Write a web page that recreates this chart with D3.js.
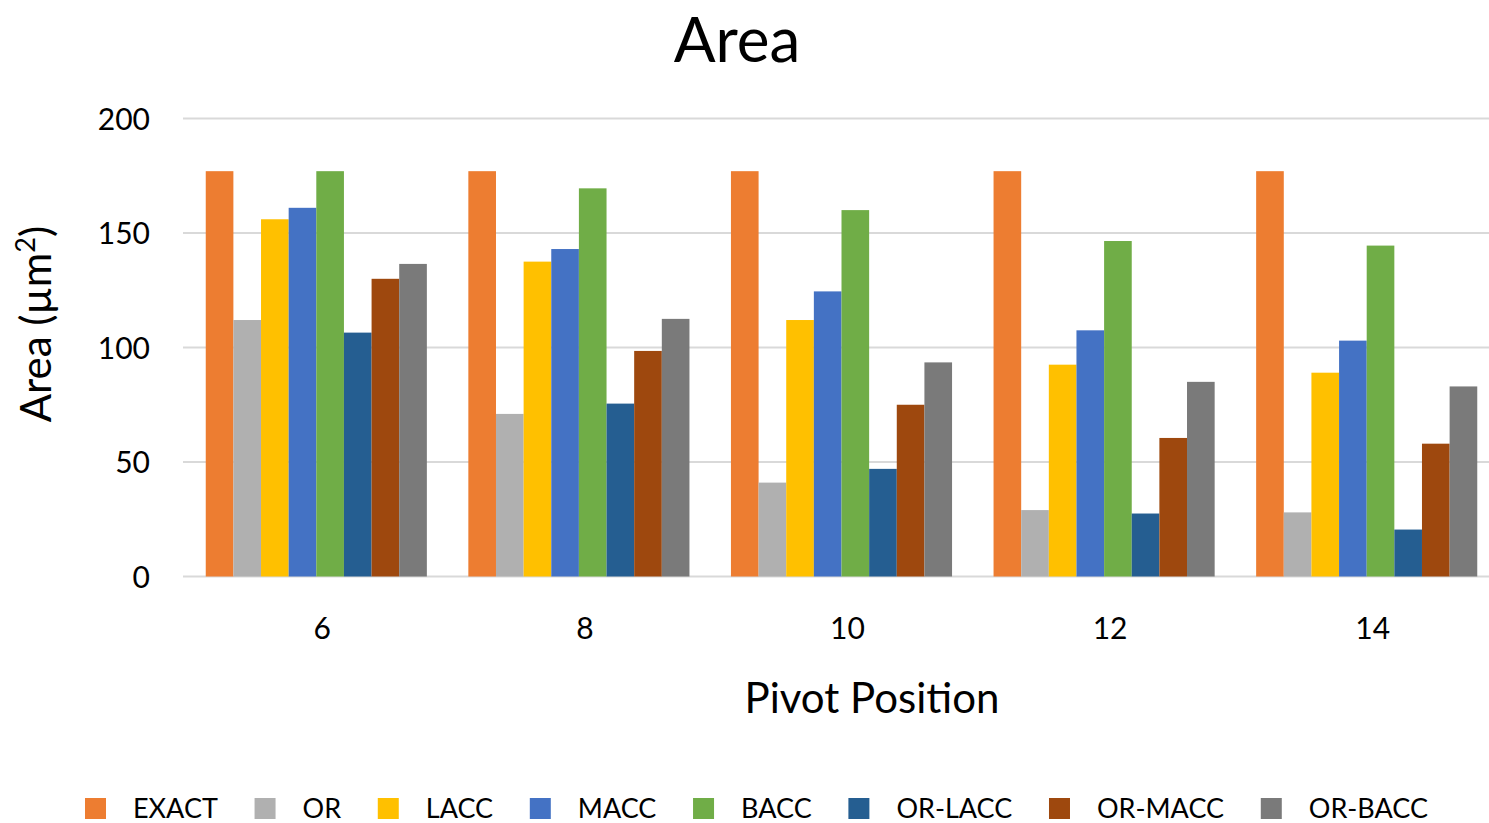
<!DOCTYPE html>
<html>
<head>
<meta charset="utf-8">
<script src="https://cdn.jsdelivr.net/npm/d3@7"></script>
<style>
  html, body { margin: 0; padding: 0; background: #fff; overflow: hidden; }
  svg { display: block; font-family: Lato, "Open Sans", sans-serif; }
</style>
</head>
<body>
<svg id="chart" width="1489" height="823"></svg>
<script>
// Pivot positions along the x axis
const categories = ["6", "8", "10", "12", "14"];

// Series names and colours
const seriesNames = ["EXACT", "OR", "LACC", "MACC", "BACC", "OR-LACC", "OR-MACC", "OR-BACC"];
const seriesColors = ["#ed7d31", "#b0b0b0", "#ffc000", "#4472c4", "#70ad47", "#255e91", "#9e480e", "#7a7a7a"];

// Area (µm²) per series, one value per pivot position
const EXACT    = [177, 177, 177, 177, 177];
const OR       = [112, 71, 41, 29, 28];
const LACC     = [156, 137.5, 112, 92.5, 89];
const MACC     = [161, 143, 124.5, 107.5, 103];
const BACC     = [177, 169.5, 160, 146.5, 144.5];
const OR_LACC  = [106.5, 75.5, 47, 27.5, 20.5];
const OR_MACC  = [130, 98.5, 75, 60.5, 58];
const OR_BACC  = [136.5, 112.5, 93.5, 85, 83];

const seriesValues = [EXACT, OR, LACC, MACC, BACC, OR_LACC, OR_MACC, OR_BACC];

// Y axis ticks
const yTicks = [0, 50, 100, 150, 200];

const svg = d3.select("#chart");

const x0 = d3.scaleBand()
  .domain(categories)
  .range([185, 1498])
  .paddingInner(0.158)
  .paddingOuter(0.079);

const x1 = d3.scaleBand()
  .domain(seriesNames)
  .range([0, x0.bandwidth()])
  .padding(0);

const y = d3.scaleLinear()
  .domain([0, 200])
  .range([576.5, 118.5]);

const color = d3.scaleOrdinal().domain(seriesNames).range(seriesColors);

// Title
svg.append("text")
  .attr("x", 737)
  .attr("y", 61.5)
  .attr("text-anchor", "middle")
  .attr("font-size", 62)
  .attr("fill", "#000")
  .text("Area");

// Horizontal gridlines
svg.append("g")
  .attr("class", "grid")
  .selectAll("line")
  .data(yTicks)
  .join("line")
  .attr("x1", 183)
  .attr("x2", 1498)
  .attr("y1", d => y(d))
  .attr("y2", d => y(d))
  .attr("stroke", "#d9d9d9")
  .attr("stroke-width", 2.2);

// Y axis tick labels
const yAxis = d3.axisLeft(y).tickValues(yTicks).tickSize(0).tickPadding(0);
const yAxisG = svg.append("g")
  .attr("transform", "translate(150,0)")
  .call(yAxis);
yAxisG.select(".domain").remove();
yAxisG.selectAll("text")
  .attr("font-family", "Lato, 'Open Sans', sans-serif")
  .attr("font-size", 30)
  .attr("fill", "#000")
  .attr("dy", "0.35em");

// Bars
const groups = svg.append("g")
  .selectAll("g")
  .data(categories)
  .join("g")
  .attr("transform", d => `translate(${x0(d)},0)`);

groups.selectAll("rect")
  .data((cat, i) => seriesNames.map((s, k) => ({ series: s, value: seriesValues[k][i] })))
  .join("rect")
  .attr("x", d => x1(d.series))
  .attr("width", x1.bandwidth())
  .attr("y", d => y(d.value))
  .attr("height", d => y(0) - y(d.value))
  .attr("fill", d => color(d.series));

// X axis tick labels
const xAxis = d3.axisBottom(x0).tickSize(0).tickPadding(0);
const xAxisG = svg.append("g")
  .attr("transform", "translate(6,628)")
  .call(xAxis);
xAxisG.select(".domain").remove();
xAxisG.selectAll("text")
  .attr("font-family", "Lato, 'Open Sans', sans-serif")
  .attr("font-size", 30)
  .attr("fill", "#000")
  .attr("dy", "0.35em");

// Axis titles
svg.append("text")
  .attr("x", 872)
  .attr("y", 713)
  .attr("text-anchor", "middle")
  .attr("font-size", 42)
  .attr("fill", "#000")
  .text("Pivot Position");

const yTitle = svg.append("text")
  .attr("transform", "translate(51,324) rotate(-90)")
  .attr("text-anchor", "middle")
  .attr("font-size", 42)
  .attr("fill", "#000");
yTitle.append("tspan").text("Area (µm");
yTitle.append("tspan").attr("font-size", 27).attr("dy", -16).text("2");
yTitle.append("tspan").attr("dy", 16).text(")");

// Legend
const legend = svg.append("g").attr("class", "legend");
const swatch = 21, swatchGap = 27;
const legendLeft = 85, legendRight = 1428;
const items = legend.selectAll("g")
  .data(seriesNames)
  .join("g");
items.append("rect")
  .attr("width", swatch)
  .attr("height", swatch)
  .attr("y", 798)
  .attr("fill", d => color(d));
items.append("text")
  .attr("x", swatch + swatchGap)
  .attr("y", 818)
  .attr("font-size", 27)
  .attr("fill", "#000")
  .text(d => d);

const widths = [];
items.select("text").each(function () { widths.push(this.getComputedTextLength()); });
const itemWidths = widths.map(w => swatch + swatchGap + w);
const gap = (legendRight - legendLeft - d3.sum(itemWidths)) / (seriesNames.length - 1);
let cursor = legendLeft;
items.attr("transform", (d, i) => {
  const t = `translate(${cursor},0)`;
  cursor += itemWidths[i] + gap;
  return t;
});
</script>
</body>
</html>
